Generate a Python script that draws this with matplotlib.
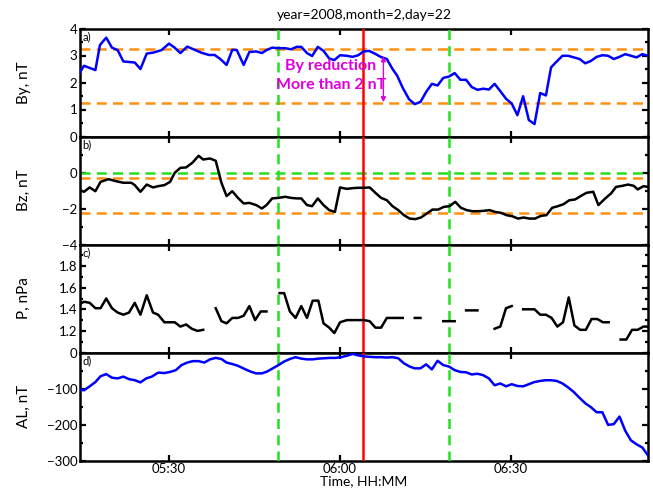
import numpy as np
import matplotlib
matplotlib.use("Agg")
import matplotlib.pyplot as plt
from matplotlib.ticker import FuncFormatter, MultipleLocator, FixedLocator

plt.rcParams['font.family'] = ['Lato', 'DejaVu Sans']

# ---- data (time in minutes after 05:00 UT) ----
by_t = [14.4,15.1,17.1,17.9,19.0,20.0,21.0,22.0,24.0,25.0,
        26.1,27.3,28.7,30.0,31.0,32.0,33.2,34.3,35.6,37.0,
        38.0,39.0,40.1,41.1,41.9,43.1,44.1,45.3,46.3,47.1,
        48.1,49.2,50.4,51.4,52.4,53.2,54.2,55.1,56.1,57.1,
        58.1,59.0,60.0,61.2,62.2,63.2,64.1,65.1,66.1,67.1,
        68.2,69.2,70.0,71.0,72.1,73.1,74.1,75.1,76.1,77.1,
        78.1,79.1,80.1,81.1,82.1,83.1,84.1,85.1,86.1,87.1,
        88.1,89.1,90.1,91.1,92.1,93.1,94.1,95.1,96.1,97.0,
        98.0,99.0,100.0,101.0,102.0,103.0,104.0,105.0,106.0,107.0,
        108.0,109.0,110.0,111.0,112.0,113.0,114.0]
by_v = [2.38,2.62,2.46,3.39,3.66,3.29,3.20,2.78,2.74,2.50,
        3.07,3.11,3.20,3.44,3.29,3.09,3.33,3.23,3.11,3.02,
        3.02,2.87,2.65,3.21,3.20,2.65,3.13,3.15,3.09,3.20,
        3.29,3.27,3.27,3.23,3.32,3.32,3.09,2.98,3.32,3.17,
        2.89,2.83,3.01,2.99,2.95,3.01,3.15,3.17,3.07,2.95,
        2.87,2.50,2.26,1.80,1.38,1.20,1.28,1.65,1.95,1.89,
        2.17,2.22,2.35,2.10,2.10,1.83,1.73,1.77,1.74,1.95,
        1.68,1.40,1.22,0.79,1.49,0.61,0.46,1.61,1.52,2.56,
        2.78,2.99,2.99,2.93,2.87,2.71,2.80,2.95,3.01,2.99,
        2.87,2.95,3.05,2.99,2.93,3.05,2.99]

bz_t = [14.4,15.1,16.1,17.1,18.0,19.4,20.7,22.0,23.4,24.0,
        25.0,26.1,27.2,28.1,29.2,30.2,31.0,32.0,33.0,34.1,
        35.2,36.0,37.2,38.2,39.2,40.1,41.1,42.1,43.1,44.1,
        45.3,46.3,47.1,48.1,49.2,50.4,51.4,52.4,53.2,54.2,
        55.1,56.1,57.1,58.1,59.1,60.0,61.2,62.2,63.2,64.2,
        65.2,66.2,67.2,68.2,69.2,70.2,71.2,72.2,73.2,74.2,
        75.2,76.2,77.2,78.2,79.2,80.2,81.2,82.2,83.2,84.2,
        85.2,86.2,87.2,88.2,89.2,90.2,91.2,92.2,93.2,94.2,
        95.2,96.2,97.2,98.2,99.2,100.2,101.2,102.2,103.2,104.4,
        105.3,106.5,107.5,108.4,109.5,110.5,111.5,112.2,113.2,114.0]
bz_v = [-0.98,-1.07,-0.83,-1.04,-0.52,-0.37,-0.48,-0.57,-0.57,-0.70,
        -1.07,-0.67,-0.83,-0.76,-0.70,-0.52,-0.02,0.26,0.28,0.54,
        0.93,0.72,0.78,0.65,-0.57,-1.31,-1.04,-1.41,-1.72,-1.69,
        -1.81,-2.00,-1.81,-1.44,-1.41,-1.35,-1.41,-1.44,-1.44,-1.81,
        -1.87,-1.44,-1.81,-2.09,-2.19,-0.83,-0.91,-0.87,-0.85,-0.85,
        -0.83,-1.13,-1.41,-1.54,-1.87,-2.09,-2.37,-2.56,-2.59,-2.50,
        -2.28,-2.06,-2.06,-1.91,-1.87,-1.63,-1.96,-2.09,-2.15,-2.15,
        -2.13,-2.09,-2.19,-2.24,-2.37,-2.43,-2.56,-2.50,-2.56,-2.56,
        -2.41,-2.37,-1.96,-1.87,-1.76,-1.54,-1.50,-1.31,-1.13,-1.07,
        -1.81,-1.44,-1.17,-0.80,-0.74,-0.67,-0.74,-0.94,-0.76,-0.80]

nan = float('nan')
p_t = [14.4,15.1,16.1,17.1,18.0,19.0,20.0,21.0,22.0,23.0,24.0,25.0,26.1,27.2,28.1,29.2,
       30.2,31.0,32.0,33.0,34.0,35.0,36.0,37.0,
       38.2,39.2,40.1,41.1,42.1,43.1,44.1,45.1,46.1,47.1,48.0,
       49.4,50.2,51.2,52.2,53.2,54.2,55.2,56.2,57.1,58.1,59.0,60.0,61.2,62.2,63.2,64.2,
       65.2,66.2,67.2,68.2,69.2,70.2,71.0,72.0,
       73.1,74.1,75.0,
       78.1,80.1,81.0,
       82.1,84.1,85.5,
       87.1,88.1,89.1,90.1,91.0,
       92.1,94.1,95.1,96.1,97.1,98.1,99.1,100.1,101.1,102.1,103.1,104.1,105.1,106.1,107.1,108.0,
       109.2,110.2,111.2,112.2,113.2,114.0]
p_v = [1.45,1.47,1.46,1.41,1.41,1.50,1.41,1.37,1.35,1.37,1.46,1.35,1.53,1.37,1.35,1.28,
       1.28,1.28,1.24,1.26,1.22,1.20,1.21,nan,
       1.41,1.29,1.27,1.32,1.32,1.34,1.43,1.30,1.38,1.38,nan,
       1.55,1.55,1.38,1.32,1.43,1.32,1.48,1.48,1.27,1.23,1.18,1.28,1.30,1.30,1.30,1.30,
       1.29,1.23,1.23,1.32,1.32,1.32,1.32,nan,
       1.32,1.32,nan,
       1.29,1.29,nan,
       1.39,1.39,nan,
       1.22,1.24,1.41,1.43,nan,
       1.40,1.40,1.35,1.35,1.32,1.24,1.28,1.51,1.25,1.21,1.21,1.31,1.31,1.28,1.28,nan,
       1.12,1.12,1.21,1.21,1.24,1.24]

al_t = [14.4,15.1,16.1,17.1,18.0,19.0,20.0,21.0,22.0,23.0,
        24.0,25.0,26.0,27.0,28.1,29.2,30.2,31.2,32.2,33.2,
        34.2,35.2,36.2,37.2,38.2,39.2,40.1,41.1,42.1,43.3,
        44.3,45.3,46.3,47.2,48.2,49.2,50.2,51.2,52.2,53.2,
        54.2,55.2,56.2,57.2,58.2,59.2,60.2,61.2,62.2,63.2,
        64.2,65.2,66.2,67.2,68.2,69.2,70.2,71.2,72.2,73.1,
        74.1,75.1,76.1,77.1,78.1,79.1,80.1,81.1,82.1,83.1,
        84.1,85.1,86.1,87.1,88.1,89.1,90.1,91.1,92.1,93.1,
        94.1,95.1,96.1,97.0,98.0,99.0,100.0,101.0,102.0,103.0,
        104.0,105.0,106.0,107.0,108.0,109.0,110.0,111.0,112.0,113.0,
        114.0]
al_v = [-103,-105,-94,-82,-66,-60,-70,-72,-67,-74,
        -77,-83,-72,-67,-56,-57,-54,-49,-35,-28,
        -24,-24,-28,-19,-15,-18,-28,-32,-37,-46,
        -53,-58,-58,-53,-44,-35,-25,-18,-13,-17,
        -19,-19,-17,-16,-15,-15,-13,-9,-4,-8,
        -11,-12,-13,-13,-14,-13,-16,-30,-39,-44,
        -44,-33,-47,-23,-35,-39,-49,-54,-55,-61,
        -59,-63,-72,-91,-86,-94,-88,-93,-94,-88,
        -82,-79,-77,-77,-79,-86,-97,-110,-126,-141,
        -152,-166,-166,-201,-199,-178,-217,-244,-255,-264,
        -286]

by_levels = [3.24, 1.24]
bz_levels = [-0.28, -2.24]
bz_zero = 0.0
green_times = [49.1, 79.1]
red_time = 64.0
x_range = [14.4, 114.0]
x_ticks = [30, 60, 90]

title = "year=2008,month=2,day=22"
ylabels = ["By, nT", "Bz, nT", "P, nPa", "AL, nT"]
panel_tags = ["a)", "b)", "c)", "d)"]

# ---- figure ----
W, H = 653, 492
fig = plt.figure(figsize=(W/100, H/100), dpi=100)

left, right = 80/W, 648/W
top_px, bot_px = 28.5, 460.5
ph = (bot_px - top_px) / 4
axes = []
for i in range(4):
    b = 1 - (top_px + (i+1)*ph)/H
    ax = fig.add_axes([left, b, right-left, ph/H])
    axes.append(ax)

ORANGE = '#ff9010'
GREEN = '#22e022'
MAG = '#dd00dd'
LW = 1.8

def fmt(m, pos):
    m = int(round(m))
    return f"{5 + m//60:02d}:{m % 60:02d}"

ylims = [(0, 4), (-4, 2), (1.0, 2.0), (-300, 0)]
yticks = [[0, 1, 2, 3, 4], [-4, -2, 0], [1.2, 1.4, 1.6, 1.8], [-300, -200, -100, 0]]
yminor = [0.5, 1.0, 0.1, 50]

for i, ax in enumerate(axes):
    ax.set_xlim(*x_range)
    ax.set_ylim(*ylims[i])
    ax.yaxis.set_major_locator(FixedLocator(yticks[i]))
    ax.yaxis.set_minor_locator(MultipleLocator(yminor[i]))
    ax.xaxis.set_major_locator(FixedLocator(x_ticks))
    ax.xaxis.set_major_formatter(FuncFormatter(fmt))
    ax.tick_params(direction='in', which='both', top=True, right=True,
                   labelsize=9.5, width=1.6, pad=2)
    ax.tick_params(which='major', length=4.5)
    ax.tick_params(which='minor', length=2.2)
    for s in ax.spines.values():
        s.set_linewidth(1.8)
    if i < 3:
        ax.tick_params(labelbottom=False)
    ax.set_ylabel(ylabels[i], fontsize=11)
    ax.yaxis.set_label_coords(-0.087, 0.5)
    ax.text(0.004, 0.97, panel_tags[i], transform=ax.transAxes, fontsize=8,
            ha='left', va='top')
    for g in green_times:
        ax.axvline(g, color=GREEN, lw=LW, dashes=(4, 2.5), zorder=3)
    ax.axvline(red_time, color='red', lw=LW, zorder=4)

# panel a
axa = axes[0]
for lv in by_levels:
    axa.axhline(lv, color=ORANGE, lw=LW, dashes=(4, 2.5), zorder=2)
axa.plot(by_t, by_v, color='#0000ff', lw=LW, zorder=5)
axa.text(58.4, 2.61, "By reduction", color=MAG, fontsize=11.5, fontweight='bold',
         ha='center', va='center', zorder=6)
axa.text(58.4, 1.91, "More than 2 nT", color=MAG, fontsize=11.5, fontweight='bold',
         ha='center', va='center', zorder=6)
axa.annotate("", xy=(67.6, 1.27), xytext=(67.6, 2.97),
             arrowprops=dict(arrowstyle='<|-|>', color=MAG, lw=1.0,
                             mutation_scale=7, shrinkA=0, shrinkB=0), zorder=6)
axa.set_title(title, fontsize=10, pad=7)

# panel b
axb = axes[1]
axb.axhline(bz_zero, color=GREEN, lw=LW, dashes=(4, 2.5), zorder=2)
for lv in bz_levels:
    axb.axhline(lv, color=ORANGE, lw=LW, dashes=(4, 2.5), zorder=2)
axb.plot(bz_t, bz_v, color='black', lw=LW, zorder=5)

# panel c
axc = axes[2]
axc.plot(p_t, p_v, color='black', lw=LW, zorder=5)

# panel d
axd = axes[3]
axd.plot(al_t, al_v, color='#0000ff', lw=LW, zorder=5)
axd.set_xlabel("Time, HH:MM", fontsize=10, labelpad=0)

fig.savefig("out.png", dpi=100)
